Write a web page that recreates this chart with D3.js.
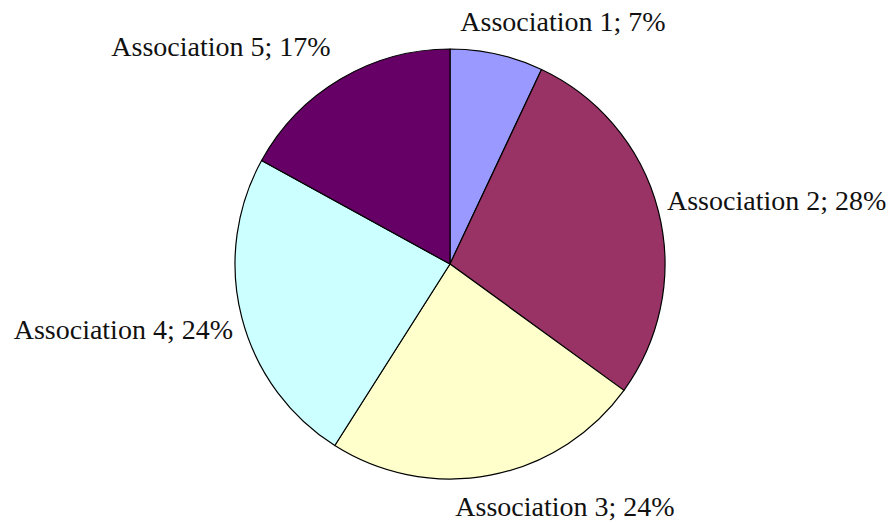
<!DOCTYPE html>
<html>
<head>
<meta charset="utf-8">
<script src="https://cdn.jsdelivr.net/npm/d3@7/dist/d3.min.js"></script>
<style>
  html, body { margin: 0; padding: 0; background: #ffffff; }
  svg { display: block; }
</style>
</head>
<body>
<div id="chart"></div>
<script>
// Share of members by association (percent)
const categories = ["Association 1", "Association 2", "Association 3", "Association 4", "Association 5"];
const shares = [7, 28, 24, 24, 17];
const sliceColors = ["#9999ff", "#993366", "#ffffcc", "#ccffff", "#660066"];

// Label placement relative to the pie centre: [dx, dy, anchor]
const labelLayout = [
  [113, -233, "middle"],
  [217, -54, "start"],
  [115, 252, "middle"],
  [-217, 75, "end"],
  [-229, -208, "middle"]
];

const width = 890, height = 523;
const cx = 450, cy = 264, radius = 215;

const svg = d3.select("#chart").append("svg")
  .attr("width", width)
  .attr("height", height);

const rows = categories.map((c, i) => ({ name: c, value: shares[i], color: sliceColors[i], layout: labelLayout[i] }));

const pie = d3.pie().value(d => d.value).sort(null);
const arc = d3.arc().innerRadius(0).outerRadius(radius);

const g = svg.append("g").attr("transform", `translate(${cx},${cy})`);

g.selectAll("path.slice")
  .data(pie(rows))
  .join("path")
  .attr("class", "slice")
  .attr("d", arc)
  .attr("fill", d => d.data.color)
  .attr("stroke", "#000")
  .attr("stroke-width", 1.2)
  .attr("stroke-linejoin", "round");

g.selectAll("text.label")
  .data(pie(rows))
  .join("text")
  .attr("class", "label")
  .attr("x", d => d.data.layout[0])
  .attr("y", d => d.data.layout[1])
  .attr("text-anchor", d => d.data.layout[2])
  .attr("font-family", "'Liberation Serif', 'Times New Roman', serif")
  .attr("font-size", 28)
  .attr("fill", "#111")
  .text(d => `${d.data.name}; ${d.data.value}%`);
</script>
</body>
</html>
